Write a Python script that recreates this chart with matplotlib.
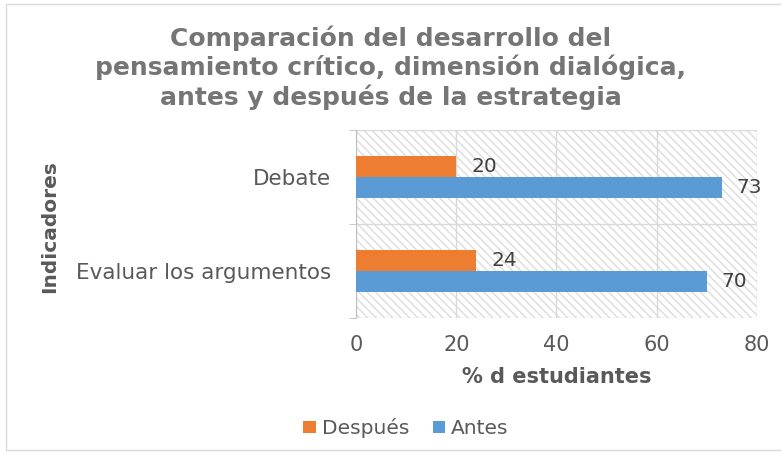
import numpy as np
import matplotlib
matplotlib.use("Agg")
import matplotlib.pyplot as plt
from matplotlib.patches import Rectangle

categories = ["Evaluar los argumentos", "Debate"]
despues = [24, 20]
antes = [70, 73]
xticks = [0, 20, 40, 60, 80]

orange = "#ED7D31"
blue = "#5B9BD5"
gray_text = "#595959"

fig = plt.figure(figsize=(7.81, 4.53), dpi=100)
ax = fig.add_axes([0.456, 0.298, 0.513, 0.415])

# outer chart frame
fig.patches.append(Rectangle((0.008, 0.006), 1.0, 0.985, transform=fig.transFigure,
                             fill=False, edgecolor="#d9d9d9", linewidth=1))

# hatched plot background
ax.add_patch(Rectangle((0, 0), 1, 1, transform=ax.transAxes, facecolor="white",
                       edgecolor="#dcdcdc", hatch="\\\\\\\\", linewidth=0, zorder=0))

y = np.arange(len(categories))
h = 0.22
ax.barh(y + h / 2, despues, height=h, color=orange, label="Después", zorder=3)
ax.barh(y - h / 2, antes, height=h, color=blue, label="Antes", zorder=3)

for yi, v in zip(y, despues):
    ax.text(v + 3, yi + h / 2, str(v), va="center", ha="left", fontsize=14.5, color="#404040")
for yi, v in zip(y, antes):
    ax.text(v + 3, yi - h / 2, str(v), va="center", ha="left", fontsize=14.5, color="#404040")

ax.set_xlim(0, 80)
ax.set_ylim(-0.5, 1.5)
ax.set_xticks(xticks)
ax.set_yticks(y)
ax.set_yticklabels(categories)
ax.set_yticks([-0.5, 0.5, 1.5], minor=True)
ax.tick_params(axis="x", length=0, labelsize=15, labelcolor=gray_text, pad=12)
ax.tick_params(axis="y", which="major", length=0, labelsize=15.5, labelcolor=gray_text, pad=18)
ax.tick_params(axis="y", which="minor", length=5, color="#bfbfbf")
ax.grid(axis="x", color="#d9d9d9", linewidth=1, zorder=1)
ax.grid(axis="y", which="minor", color="#d9d9d9", linewidth=1, zorder=1)
for s in ["top", "right", "bottom"]:
    ax.spines[s].set_visible(False)
ax.spines["left"].set_color("#bfbfbf")
ax.set_axisbelow(True)

ax.set_xlabel("% d estudiantes", fontsize=15, fontweight="bold", color=gray_text, labelpad=9)
fig.text(0.064, 0.5, "Indicadores", rotation=90, ha="center", va="center",
         fontsize=14.5, fontweight="bold", color=gray_text)

fig.text(0.5, 0.758, "Comparación del desarrollo del\npensamiento crítico, dimensión dialógica,\nantes y después de la estrategia",
         ha="center", va="bottom", fontsize=18, fontweight="bold", color="#757575", linespacing=1.18)

fig.legend(loc="center", bbox_to_anchor=(0.52, 0.055), ncol=2, frameon=False,
           fontsize=14.5, labelcolor=gray_text, handlelength=0.6, handleheight=0.6,
           handletextpad=0.3, columnspacing=1.2)

fig.savefig("out.png", dpi=100)
